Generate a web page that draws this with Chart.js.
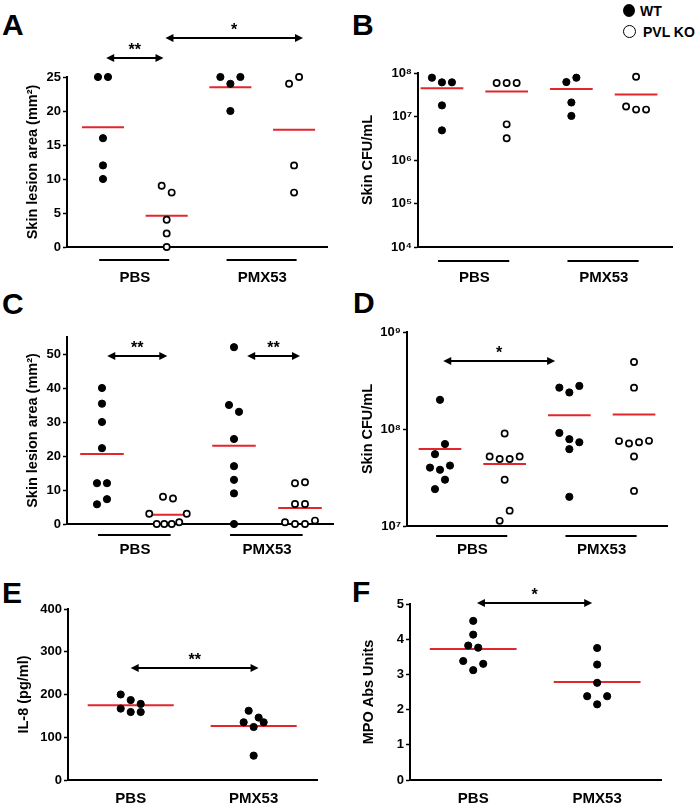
<!DOCTYPE html>
<html>
<head>
<meta charset="utf-8">
<script src="https://cdn.jsdelivr.net/npm/chart.js@4.4.1/dist/chart.umd.min.js"></script>
<style>
body { margin: 0; background: #fff; width: 700px; height: 806px; position: relative; overflow: hidden;
       font-family: "Liberation Sans", Arial, sans-serif; font-weight: bold; color: #000; }
canvas { position: absolute; }
.lt { position: absolute; font-size: 30px; line-height: 30px; }
.key { position: absolute; font-size: 14px; line-height: 16px; }
.dot { position: absolute; width: 12px; height: 13px; border-radius: 50%; background: #000; }
.ring { position: absolute; width: 11px; height: 11px; border-radius: 50%; border: 1px solid #000; }
</style>
</head>
<body>
<div class="lt" style="left:2px;top:10px">A</div>
<div class="lt" style="left:352px;top:10px">B</div>
<div class="lt" style="left:2px;top:289px">C</div>
<div class="lt" style="left:353px;top:288px">D</div>
<div class="lt" style="left:2px;top:578px">E</div>
<div class="lt" style="left:352px;top:577px">F</div>

<div class="dot" style="left:623px;top:4px"></div>
<div class="key" style="left:640px;top:3px">WT</div>
<div class="ring" style="left:623px;top:25px"></div>
<div class="key" style="left:643px;top:24px">PVL KO</div>

<canvas id="cA" width="350" height="290" style="left:0;top:0"></canvas>
<canvas id="cB" width="350" height="290" style="left:350px;top:0"></canvas>
<canvas id="cC" width="350" height="270" style="left:0;top:290px"></canvas>
<canvas id="cD" width="350" height="270" style="left:350px;top:290px"></canvas>
<canvas id="cE" width="350" height="246" style="left:0;top:560px"></canvas>
<canvas id="cF" width="350" height="246" style="left:350px;top:560px"></canvas>

<script>
const treatments = ["PBS", "PMX53"];
// group order in A-D: WT PBS, PVL KO PBS, WT PMX53, PVL KO PMX53
const wtFilled = [true, false, true, false];

const lesionA = [[25, 25, 16, 12, 10], [9, 8, 4, 2, 0], [25, 24, 25, 20], [24, 25, 12, 8]];
const cfuB = [[7.8e7, 6.1e7, 6.1e7, 1.8e7, 4.8e6], [5.9e7, 5.9e7, 5.9e7, 6.6e6, 3.15e6],
              [6.2e7, 7.8e7, 2.1e7, 1.03e7], [8.2e7, 1.7e7, 1.44e7, 1.44e7]];
const lesionC = [[40, 35.4, 30, 22.3, 12, 12, 5.8, 7.3], [8, 7.5, 3, 0, 0, 0, 0.5, 3],
                 [52, 35, 33, 25, 17, 13, 9, 0], [12, 12.3, 5.9, 5.9, 0.5, 0, 0, 1]];
const cfuD = [[2.0e8, 5.5e7, 7.0e7, 4.0e7, 3.8e7, 4.2e7, 2.4e7, 3.0e7],
              [9.0e7, 5.2e7, 4.9e7, 4.9e7, 5.2e7, 3.0e7, 1.13e7, 1.44e7],
              [2.67e8, 2.38e8, 2.78e8, 9.1e7, 7.85e7, 7.3e7, 6.2e7, 2.0e7],
              [4.9e8, 2.67e8, 7.5e7, 7.1e7, 7.3e7, 7.55e7, 5.2e7, 2.3e7]];
const il8E = [[200, 187, 178, 167, 159, 159], [162, 146, 135, 124, 135, 57]];
const mpoF = [[4.52, 4.13, 3.82, 3.76, 3.38, 3.12, 3.30], [3.75, 3.28, 2.76, 2.38, 2.15, 2.38]];

const ticksA = [0, 5, 10, 15, 20, 25];
const ticksB = [1e4, 1e5, 1e6, 1e7, 1e8];
const ticksC = [0, 10, 20, 30, 40, 50];
const ticksD = [1e7, 1e8, 1e9];
const ticksE = [0, 100, 200, 300, 400];
const ticksF = [0, 1, 2, 3, 4, 5];

const sigA = [{from: 0.05, to: 0.95, y: 27.8, text: "**"}, {from: 0.98, to: 3.14, y: 30.7, text: "*"}];
const sigC = [{from: 0.08, to: 0.99, y: 49.5, text: "**"}, {from: 2.2, to: 3.0, y: 49.5, text: "**"}];
const sigD = [{from: 0.05, to: 1.78, y: 5e8, text: "*"}];
const sigE = [{from: 0, to: 1.04, y: 263, text: "**"}];
const sigF = [{from: 0.03, to: 0.96, y: 5.02, text: "*"}];

const RED = "#e3262c";
const SUP = "⁰¹²³⁴⁵⁶⁷⁸⁹";
const FONT = '"Liberation Sans", Arial, sans-serif';

// under-bars, significance arrows and stars
const marks = {
    id: "marks",
    afterDraw(chart, args, o) {
        const {ctx, chartArea: a} = chart;
        const xs = chart.scales.x, ys = chart.scales.y;
        ctx.save();
        ctx.strokeStyle = "#000";
        ctx.fillStyle = "#000";
        ctx.lineWidth = 2;
        (o.bars || []).forEach(b => {
            const py = a.bottom + o.barGap;
            ctx.beginPath();
            ctx.moveTo(xs.getPixelForValue(b[0]), py);
            ctx.lineTo(xs.getPixelForValue(b[1]), py);
            ctx.stroke();
        });
        ctx.font = "bold 16px " + FONT;
        ctx.textAlign = "center";
        ctx.textBaseline = "alphabetic";
        (o.sig || []).forEach(s => {
            const x0 = xs.getPixelForValue(s.from), x1 = xs.getPixelForValue(s.to);
            const py = Math.round(ys.getPixelForValue(s.y));
            ctx.beginPath();
            ctx.moveTo(x0 + 5, py);
            ctx.lineTo(x1 - 5, py);
            ctx.stroke();
            [[x0, 1], [x1, -1]].forEach(([px, d]) => {
                ctx.beginPath();
                ctx.moveTo(px, py);
                ctx.lineTo(px + 8 * d, py - 4);
                ctx.lineTo(px + 8 * d, py + 4);
                ctx.closePath();
                ctx.fill();
            });
            ctx.fillText(s.text, (x0 + x1) / 2, py - 3);
        });
        ctx.restore();
    }
};
Chart.register(marks);

// spread points of similar height side by side
function swarm(vals, center, yPx, slot) {
    const out = [];
    let i = 0;
    while (i < vals.length) {
        let j = i + 1;
        while (j < vals.length && Math.abs(yPx(vals[j]) - yPx(vals[i])) < 10.5) j++;
        const n = j - i, step = n > 4 ? slot * 0.75 : slot;
        for (let k = 0; k < n; k++) out.push({x: center + (k - (n - 1) / 2) * step, y: vals[i + k]});
        i = j;
    }
    return out;
}

function panel(id, p) {
    const b = p.box;
    const plotW = b.r - b.l, plotH = b.b - b.t;
    const f = p.log ? Math.log10 : (v => v);
    const yPx = v => (f(v) - f(p.yMin)) * plotH / (f(p.yMax) - f(p.yMin));
    const slot = 10 * (p.xMax - p.xMin) / plotW;
    const datasets = [];
    p.groups.forEach((vals, g) => {
        const filled = p.filled[g];
        datasets.push({
            data: swarm(vals, g, yPx, slot),
            pointRadius: filled ? 3.6 : 3.1,
            borderWidth: filled ? 1 : 1.7,
            backgroundColor: filled ? "#000" : "#fff",
            borderColor: "#000",
            order: 0,
            clip: false
        });
        const mean = vals.reduce((s, v) => s + v, 0) / vals.length;
        datasets.push({
            data: [{x: g - p.half, y: mean}, {x: g + p.half, y: mean}],
            showLine: true,
            borderColor: RED,
            borderWidth: 2,
            pointRadius: 0,
            order: 1,
            clip: false
        });
    });
    return new Chart(document.getElementById(id), {
        type: "scatter",
        data: {datasets},
        options: {
            responsive: false,
            animation: false,
            events: [],
            layout: {padding: {top: b.t, right: b.w - b.r, left: 0, bottom: 0}},
            plugins: {
                legend: {display: false},
                tooltip: {enabled: false},
                marks: {bars: p.bars, barGap: p.barGap, sig: p.sig}
            },
            scales: {
                x: {
                    type: "linear",
                    min: p.xMin, max: p.xMax, bounds: "data",
                    afterBuildTicks: s => { s.ticks = p.xTicks.map(v => ({value: v})); },
                    afterFit: s => { s.height = b.h - b.b; },
                    grid: {display: false, drawTicks: false},
                    border: {display: true, color: "#000", width: 2},
                    ticks: {
                        autoSkip: false, maxRotation: 0, padding: p.labelPad, color: "#000",
                        font: {family: FONT, size: 15, weight: "bold"},
                        callback: (v, i) => treatments[i]
                    }
                },
                y: {
                    type: p.log ? "logarithmic" : "linear",
                    min: p.yMin, max: p.yMax, bounds: "data",
                    afterBuildTicks: s => { s.ticks = p.yTicks.map(v => ({value: v})); },
                    afterFit: s => { s.width = b.l; },
                    grid: {drawOnChartArea: false, drawTicks: true, tickLength: 4, tickWidth: 1.5, tickColor: "#000"},
                    border: {display: true, color: "#000", width: 2},
                    ticks: {
                        autoSkip: false, padding: 2, color: "#000",
                        font: {family: FONT, size: 13, weight: "bold"},
                        callback: v => p.log ? "10" + String(Math.round(Math.log10(v))).split("").map(d => SUP[d]).join("") : v
                    },
                    title: {
                        display: true, text: p.yTitle, color: "#000",
                        font: {family: FONT, size: 14.5, weight: "bold"},
                        padding: {top: p.titlePad, bottom: 0}
                    }
                }
            }
        }
    });
}

const fourGroups = {xTicks: [0.5, 2.5], bars: [[-0.06, 1.04], [1.94, 3.04]], half: 0.33, filled: wtFilled};
const twoGroups = {xTicks: [0, 1], bars: [], half: 0.35, filled: [true, true], xMin: -0.51, xMax: 1.515};

panel("cA", Object.assign({}, fourGroups, {
    box: {w: 350, h: 290, l: 67, t: 77, r: 327, b: 247},
    groups: lesionA, xMin: -0.565, xMax: 3.517, yMin: 0, yMax: 25, yTicks: ticksA,
    yTitle: "Skin lesion area (mm²)", titlePad: 24, labelPad: 22, barGap: 13, sig: sigA
}));
panel("cB", Object.assign({}, fourGroups, {
    box: {w: 350, h: 290, l: 68, t: 73, r: 322, b: 247},
    groups: cfuB, log: true, xMin: -0.37, xMax: 3.555, yMin: 1e4, yMax: 1e8, yTicks: ticksB,
    yTitle: "Skin CFU/mL", titlePad: 9, labelPad: 22, barGap: 14, sig: []
}));
panel("cC", Object.assign({}, fourGroups, {
    box: {w: 350, h: 270, l: 67, t: 47, r: 333, b: 234},
    groups: lesionC, xMin: -0.53, xMax: 3.5, yMin: 0, yMax: 55, yTicks: ticksC,
    yTitle: "Skin lesion area (mm²)", titlePad: 24, labelPad: 17, barGap: 11, sig: sigC
}));
panel("cD", Object.assign({}, fourGroups, {
    box: {w: 350, h: 270, l: 57, t: 42, r: 317, b: 236},
    groups: cfuD, log: true, xMin: -0.51, xMax: 3.51, yMin: 1e7, yMax: 1e9, yTicks: ticksD,
    yTitle: "Skin CFU/mL", titlePad: 9, labelPad: 15, barGap: 10, sig: sigD
}));
panel("cE", Object.assign({}, twoGroups, {
    box: {w: 350, h: 246, l: 68, t: 49, r: 317, b: 220},
    groups: il8E, yMin: 0, yMax: 400, yTicks: ticksE,
    yTitle: "IL-8 (pg/ml)", titlePad: 15, labelPad: 10, barGap: 0, sig: sigE
}));
panel("cF", Object.assign({}, twoGroups, {
    box: {w: 350, h: 246, l: 60, t: 44, r: 311, b: 220},
    groups: mpoF, yMin: 0, yMax: 5, yTicks: ticksF,
    yTitle: "MPO Abs Units", titlePad: 10, labelPad: 10, barGap: 0, sig: sigF
}));
</script>
</body>
</html>
